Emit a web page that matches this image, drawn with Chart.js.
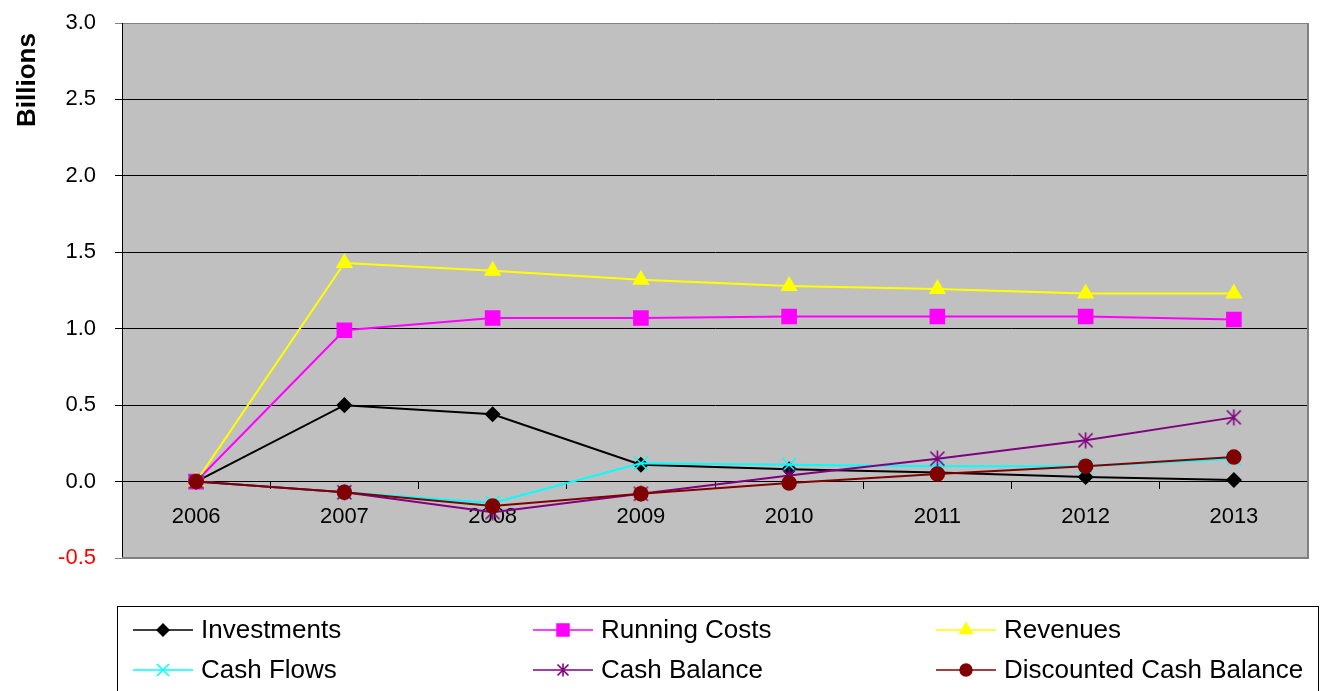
<!DOCTYPE html>
<html>
<head>
<meta charset="utf-8">
<script src="https://cdn.jsdelivr.net/npm/chart.js@4/dist/chart.umd.min.js"></script>
<style>
  html, body { margin: 0; padding: 0; background: #fff; }
  #wrap { position: relative; width: 1320px; height: 691px; overflow: hidden; }
</style>
</head>
<body>
<div id="wrap"><canvas id="cashChart" width="1320" height="691"></canvas></div>
<script>
// yearly figures, in billions
const years = ["2006", "2007", "2008", "2009", "2010", "2011", "2012", "2013"];
const investments = [0, 0.50, 0.44, 0.11, 0.08, 0.06, 0.03, 0.01];
const runningCosts = [0, 0.99, 1.07, 1.07, 1.08, 1.08, 1.08, 1.06];
const revenues = [0, 1.43, 1.38, 1.32, 1.28, 1.26, 1.23, 1.23];
const cashFlows = [0, -0.07, -0.14, 0.12, 0.11, 0.10, 0.10, 0.15];
const cashBalance = [0, -0.07, -0.20, -0.08, 0.04, 0.15, 0.27, 0.42];
const discountedBalance = [0, -0.07, -0.16, -0.08, -0.01, 0.05, 0.10, 0.16];
const yTicks = [-0.5, 0, 0.5, 1.0, 1.5, 2.0, 2.5, 3.0];

const FONT = "'Liberation Sans', Arial, sans-serif";
Chart.defaults.font.family = FONT;

// six-armed asterisk marker (x plus a vertical bar)
function asterisk(color, size) {
  const c = document.createElement("canvas");
  c.width = size;
  c.height = size;
  const g = c.getContext("2d");
  const m = size / 2, r = size / 2 - 1.5;
  g.strokeStyle = color;
  g.lineWidth = 1.6;
  g.beginPath();
  g.moveTo(m - r, m - r); g.lineTo(m + r, m + r);
  g.moveTo(m + r, m - r); g.lineTo(m - r, m + r);
  g.moveTo(m, m - r - 1); g.lineTo(m, m + r + 1);
  g.stroke();
  return c;
}

const series = [
  { label: "Investments", data: investments, color: "#000000", style: "rectRot", r: 7 },
  { label: "Running Costs", data: runningCosts, color: "#FF00FF", style: "rect", r: 10 },
  { label: "Revenues", data: revenues, color: "#FFFF00", style: "triangle", r: 8.5 },
  { label: "Cash Flows", data: cashFlows, color: "#00FFFF", style: "crossRot", r: 10 },
  { label: "Cash Balance", data: cashBalance, color: "#800080", style: asterisk("#800080", 17), r: 8 },
  { label: "Discounted Cash Balance", data: discountedBalance, color: "#800000", style: "circle", r: 7 }
];
const legendStar = asterisk("#800080", 14);

// grey plot background and the right-hand frame
const plotFrame = {
  id: "plotFrame",
  beforeDraw(chart) {
    const { ctx, chartArea: a } = chart;
    ctx.save();
    ctx.fillStyle = "#C0C0C0";
    ctx.fillRect(a.left, a.top, a.right - a.left, a.bottom - a.top);
    ctx.restore();
  },
  beforeDatasetsDraw(chart) {
    const { ctx, chartArea: a } = chart;
    ctx.save();
    ctx.strokeStyle = "#808080";
    ctx.lineWidth = 2;
    ctx.beginPath();
    ctx.moveTo(a.right, a.top);
    ctx.lineTo(a.right, a.bottom);
    ctx.lineTo(a.left, a.bottom);
    ctx.stroke();
    ctx.restore();
  }
};

// rotated axis caption near the top-left
const axisCaption = {
  id: "axisCaption",
  afterDraw(chart) {
    const ctx = chart.ctx;
    ctx.save();
    ctx.translate(28, 80);
    ctx.rotate(-Math.PI / 2);
    ctx.font = "bold 26px " + FONT;
    ctx.fillStyle = "#000";
    ctx.textAlign = "center";
    ctx.textBaseline = "middle";
    ctx.fillText("Billions", 0, 0);
    ctx.restore();
  }
};

// boxed legend below the plot, three columns
const boxLegend = {
  id: "boxLegend",
  afterDraw(chart) {
    const ctx = chart.ctx;
    const cols = [133, 533, 936];
    const rows = [630, 670];
    ctx.save();
    ctx.strokeStyle = "#000";
    ctx.lineWidth = 1;
    ctx.strokeRect(117.5, 606.5, 1201, 120);
    series.forEach((s, i) => {
      const x = cols[i % 3];
      const y = rows[Math.floor(i / 3)];
      ctx.strokeStyle = s.color;
      ctx.fillStyle = s.color;
      ctx.lineWidth = 1.5;
      ctx.beginPath();
      ctx.moveTo(x, y);
      ctx.lineTo(x + 60, y);
      ctx.stroke();
      Chart.helpers.drawPoint(ctx, {
        pointStyle: typeof s.style === "string" ? s.style : legendStar,
        radius: s.r * 0.85,
        rotation: 0,
        borderWidth: 1.5
      }, x + 30, y);
      ctx.fillStyle = "#000";
      ctx.font = "26px " + FONT;
      ctx.textAlign = "left";
      ctx.textBaseline = "middle";
      ctx.fillText(s.label, x + 68, y + 1);
    });
    ctx.restore();
  }
};

new Chart(document.getElementById("cashChart"), {
  type: "line",
  data: {
    labels: years,
    datasets: series.map((s, i) => ({
      label: s.label,
      data: s.data,
      borderColor: s.color,
      backgroundColor: s.color,
      borderWidth: 2,
      pointStyle: s.style,
      pointRadius: s.r,
      pointBackgroundColor: s.color,
      pointBorderColor: s.color,
      pointBorderWidth: 1.5,
      tension: 0,
      fill: false,
      order: series.length - i
    }))
  },
  options: {
    responsive: false,
    animation: false,
    layout: { padding: { left: 0, top: 23, right: 12, bottom: 133 } },
    plugins: {
      legend: { display: false },
      tooltip: { enabled: false }
    },
    scales: {
      x: {
        type: "category",
        offset: true,
        position: { y: 0 },
        grid: {
          offset: true,
          drawOnChartArea: false,
          drawTicks: true,
          tickLength: 7,
          color: "#000"
        },
        border: { color: "#000", width: 1 },
        ticks: { color: "#000", font: { size: 22 }, padding: 15, maxRotation: 0 }
      },
      y: {
        min: -0.5,
        max: 3.0,
        afterBuildTicks(scale) {
          scale.ticks = yTicks.map(v => ({ value: v }));
        },
        afterFit(scale) {
          scale.width = 122;
          // the label gap should not push the plot down
          scale.paddingTop = 0;
          scale.paddingBottom = 0;
        },
        ticks: {
          padding: 19,
          font: { size: 22 },
          callback: v => v.toFixed(1),
          color: ctx => (ctx.tick.value < 0 ? "#FF0000" : "#000")
        },
        grid: {
          tickLength: 7,
          lineWidth: 1,
          color: ctx => (ctx.tick && (ctx.tick.value === -0.5 || ctx.tick.value === 3) ? "#808080" : "#000")
        },
        border: { color: "#000", width: 1 }
      }
    }
  },
  plugins: [plotFrame, axisCaption, boxLegend]
});
</script>
</body>
</html>
